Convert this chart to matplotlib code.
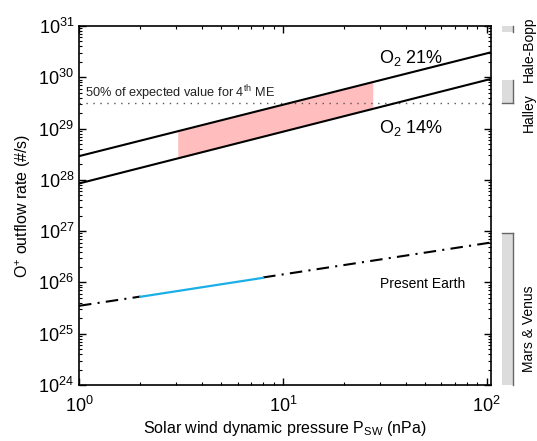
import matplotlib
matplotlib.use("Agg")
import matplotlib.pyplot as plt
from matplotlib.ticker import LogLocator, FixedLocator, NullFormatter

plt.rcParams['font.family'] = ['Liberation Sans', 'DejaVu Sans']
plt.rcParams['mathtext.fontset'] = 'custom'
plt.rcParams['mathtext.rm'] = 'Liberation Sans'
plt.rcParams['mathtext.it'] = 'Liberation Sans:italic'

# ---- data ----
x_line = [1, 105]
o2_21 = [2.9e28, 3.07e30]
o2_14 = [8.5e27, 9.3e29]
earth_x_left = [1, 2]
earth_y_left = [3.5e25, 5.3e25]
earth_x_right = [8, 105]
earth_y_right = [1.25e26, 6.0e26]
blue_x = [2, 8]
blue_y = [5.25e25, 1.23e26]
fill_x = [3.05, 27.6]
fill_upper = [8.8e28, 8.1e29]
fill_lower = [2.6e28, 2.5e29]
me4_half = 3.1e29
y_ticks = [1e24, 1e25, 1e26, 1e27, 1e28, 1e29, 1e30, 1e31]
y_labels = ['$10^{%d}$' % e for e in range(24, 32)]
x_ticks = [1, 10, 100]
x_labels = ['$10^{0}$', '$10^{1}$', '$10^{2}$']
bar_names = ['Hale-Bopp', 'Halley', 'Mars & Venus']
bar_low = [7.6e30, 3.1e29, 1e24]
bar_high = [1e31, 8.9e29, 9.1e26]

W, H = 537, 441
fig = plt.figure(figsize=(W / 100, H / 100), dpi=100)
L, R, T, B = 79, 491, 26, 385
ax = fig.add_axes([L / W, 1 - B / H, (R - L) / W, (B - T) / H])
ax.set_xscale('log')
ax.set_yscale('log')
ax.set_xlim(1, 105)
ax.set_ylim(1e24, 1e31)

ax.fill_between(fill_x, fill_lower, fill_upper, color='#ffbdbd', lw=0, zorder=1)
ax.plot(x_line, o2_21, color='black', lw=1.5, zorder=3)
ax.plot(x_line, o2_14, color='black', lw=1.5, zorder=3)
ax.axhline(me4_half, color='#555555', lw=1.0, ls=(0, (1, 4)), zorder=2)
ax.plot(earth_x_left, earth_y_left, color='black', lw=1.5, dashes=(6, 3, 1, 3), zorder=3)
ax.plot(earth_x_right, earth_y_right, color='black', lw=1.5, dashes=(6, 3, 1, 3), zorder=3)
ax.plot(blue_x, blue_y, color='#1aafe6', lw=1.6, zorder=4)

ax.text(1.07, 4.9e29, r'50% of expected value for 4$^{\mathrm{th}}$ ME', fontsize=9.2,
        va='center', ha='left', color='#222222')
ax.text(29.5, 2.4e30, r'O$_2$ 21%', fontsize=13, va='center', ha='left')
ax.text(29.5, 1.02e29, r'O$_2$ 14%', fontsize=13, va='center', ha='left')
ax.text(30, 9.3e25, 'Present Earth', fontsize=10, va='center', ha='left')

ax.yaxis.set_major_locator(FixedLocator(y_ticks))
ax.set_yticklabels(y_labels)
ax.yaxis.set_minor_locator(LogLocator(base=10, subs=range(2, 10), numticks=20))
ax.yaxis.set_minor_formatter(NullFormatter())
ax.xaxis.set_major_locator(FixedLocator(x_ticks))
ax.set_xticklabels(x_labels)
ax.xaxis.set_minor_locator(LogLocator(base=10, subs=range(2, 10), numticks=20))
ax.xaxis.set_minor_formatter(NullFormatter())
ax.tick_params(which='both', direction='in', top=True, right=True, labelsize=13)
ax.tick_params(which='major', length=5, width=1)
ax.tick_params(which='minor', length=2.5, width=0.8)
ax.tick_params(axis='x', pad=8)
for s in ax.spines.values():
    s.set_linewidth(1.2)

ax.set_xlabel(r'Solar wind dynamic pressure P$_{\mathrm{SW}}$ (nPa)', fontsize=11.5, labelpad=2)
ax.set_ylabel(r'O$^{+}$ outflow rate (#/s)', fontsize=11.5, labelpad=4)

# side bars
bx = fig.add_axes([502 / W, 1 - B / H, 11 / W, (B - T) / H])
bx.set_yscale('log')
bx.set_ylim(1e24, 1e31)
bx.set_xlim(0, 1)
bx.axis('off')
for lo, hi in zip(bar_low, bar_high):
    bx.fill_between([0, 1], [lo, lo], [hi, hi], facecolor='#dcdcdc', edgecolor='none', clip_on=False)
    bx.plot([1, 1], [lo, hi], color='#666666', lw=1, clip_on=False)
bx.plot([0, 1], [bar_low[1], bar_low[1]], color='#666666', lw=1, clip_on=False)
bx.plot([0, 1], [bar_high[2], bar_high[2]], color='#666666', lw=1, clip_on=False)
label_y = [1 - 49 / H, 1 - 113 / H, 1 - 329 / H]
for name, yy in zip(bar_names, label_y):
    fig.text(529 / W, yy, name, rotation=90, fontsize=10, ha='center', va='center')

fig.savefig('out.png', dpi=100)
